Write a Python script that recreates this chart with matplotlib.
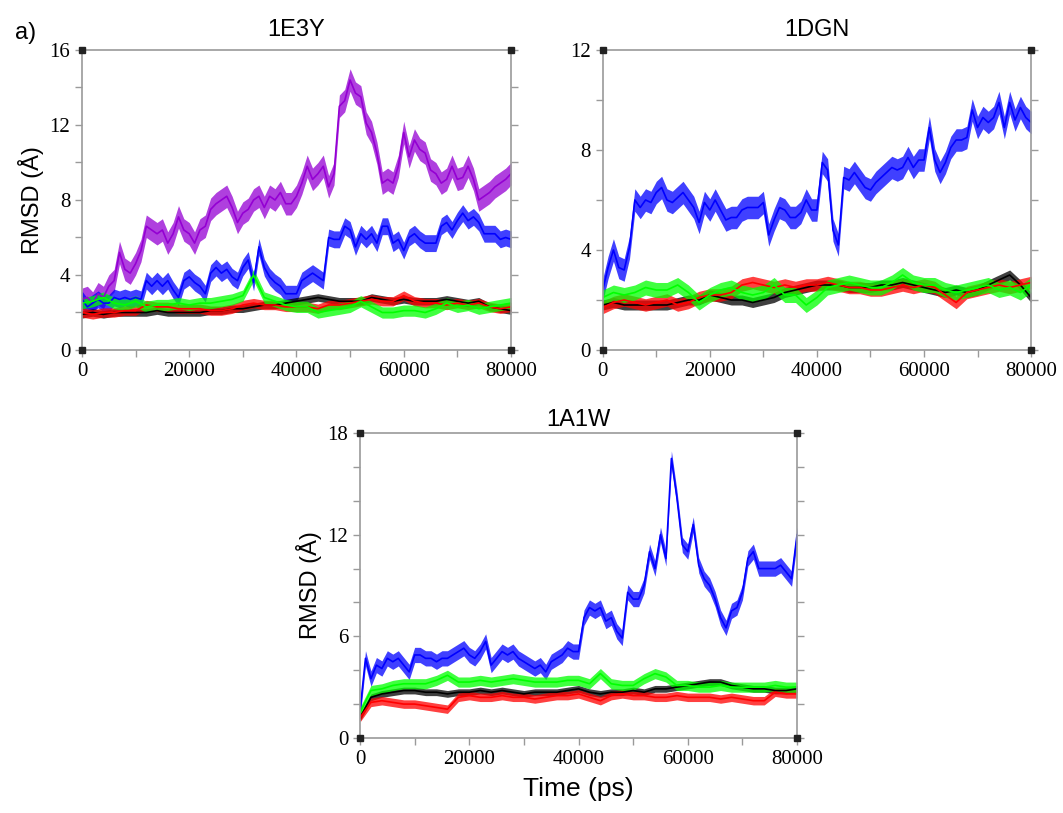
import matplotlib
matplotlib.use("Agg")
import matplotlib.pyplot as plt
import numpy as np

t_fine = list(range(0, 80001, 1000))
t_coarse = list(range(0, 80001, 2000))

# ---- 1E3Y ----
purple_1e3y = [2.7, 2.8, 2.5, 3.0, 2.8, 3.4, 3.7, 5.2, 4.3, 4.1, 4.6, 5.3, 6.6, 6.4, 6.2, 6.4,
               5.7, 6.2, 7.1, 6.4, 6.2, 5.7, 6.4, 6.6, 7.5, 7.8, 8.0, 8.2, 7.6, 6.8, 7.3,
               7.5, 8.0, 8.2, 7.6, 8.2, 8.0, 8.4, 7.8, 7.8, 8.2, 8.9, 9.8, 9.1, 9.4, 9.8,
               8.7, 9.4, 13.0, 13.3, 14.4, 13.7, 13.5, 12.1, 11.6, 10.5, 8.9, 9.1, 8.9, 9.8, 11.6,
               10.3, 11.2, 10.7, 10.5, 9.6, 9.4, 8.9, 9.1, 9.8, 9.1, 9.2, 9.8, 9.1, 8.0, 8.2,
               8.4, 8.7, 8.9, 9.1, 9.4]
blue_1e3y = [2.7, 2.3, 2.5, 2.7, 2.5, 2.5, 2.8, 2.7, 2.8, 2.7, 2.8, 2.7, 3.7, 3.4, 3.7, 3.4,
             3.7, 3.2, 2.8, 3.7, 3.9, 3.6, 3.4, 3.0, 4.1, 4.4, 4.1, 4.3, 3.9, 3.7, 4.4,
             4.8, 3.6, 5.5, 4.4, 3.9, 3.6, 3.4, 3.0, 3.0, 3.0, 3.7, 3.9, 4.1, 3.9, 3.7,
             6.0, 5.9, 5.9, 6.6, 6.4, 5.5, 6.2, 5.9, 6.2, 5.7, 6.6, 6.6, 5.7, 5.9, 5.3,
             6.0, 6.2, 5.9, 5.7, 5.7, 5.7, 6.6, 6.8, 6.4, 6.9, 7.3, 6.9, 7.1, 6.8, 6.2,
             6.2, 6.2, 5.9, 6.0, 5.9]
black_1e3y = [1.9, 2.0, 1.9, 2.0, 2.0, 2.0, 2.0, 2.1, 2.0, 2.0, 2.0, 2.0, 2.1, 2.1, 2.2, 2.2,
              2.3, 2.4, 2.4, 2.5, 2.6, 2.7, 2.8, 2.7, 2.6, 2.6, 2.6, 2.8, 2.7, 2.6, 2.7,
              2.6, 2.6, 2.6, 2.7, 2.6, 2.5, 2.6, 2.3, 2.2, 2.1]
red_1e3y = [2.0, 1.9, 2.0, 2.0, 2.1, 2.1, 2.4, 2.3, 2.3, 2.2, 2.2, 2.2, 2.1, 2.1, 2.2, 2.4,
            2.5, 2.4, 2.4, 2.3, 2.3, 2.3, 2.2, 2.4, 2.4, 2.5, 2.6, 2.7, 2.6, 2.6, 2.9,
            2.6, 2.5, 2.5, 2.4, 2.5, 2.4, 2.5, 2.3, 2.2, 2.3]
green_1e3y = [2.5, 2.6, 2.8, 2.5, 2.4, 2.6, 2.3, 2.4, 2.4, 2.5, 2.4, 2.5, 2.5, 2.6, 2.7, 2.9,
              4.0, 2.8, 2.6, 2.4, 2.3, 2.3, 2.0, 2.1, 2.2, 2.3, 2.6, 2.3, 2.0, 2.0, 2.1,
              2.1, 2.0, 2.2, 2.5, 2.3, 2.4, 2.2, 2.3, 2.4, 2.5]

# ---- 1DGN ----
blue_1dgn = [2.4, 3.3, 4.0, 3.3, 3.2, 4.1, 6.0, 5.7, 6.0, 5.9, 6.3, 6.5, 6.0, 5.9, 6.1, 6.3,
             6.0, 5.7, 5.1, 5.9, 5.6, 6.0, 5.6, 5.2, 5.3, 5.3, 5.6, 5.7, 5.7, 5.7, 5.9,
             4.6, 5.2, 5.7, 5.6, 5.3, 5.3, 5.5, 6.0, 5.6, 5.6, 7.5, 7.2, 4.8, 4.2, 6.9,
             6.8, 7.1, 6.8, 6.5, 6.4, 6.7, 6.9, 7.1, 7.3, 7.2, 7.3, 7.7, 7.3, 7.6, 7.6,
             8.9, 7.6, 7.1, 7.5, 8.1, 8.4, 8.4, 8.5, 9.6, 8.9, 9.3, 9.1, 9.3, 9.9, 8.9,
             9.9, 9.2, 9.7, 9.3, 9.1]
black_1dgn = [1.8, 1.9, 1.8, 1.8, 1.8, 1.8, 1.8, 1.9, 2.0, 2.0, 2.2, 2.1, 2.0, 2.0, 1.9, 2.0,
              2.1, 2.3, 2.4, 2.5, 2.6, 2.6, 2.6, 2.5, 2.5, 2.5, 2.6, 2.6, 2.7, 2.6, 2.5,
              2.4, 2.3, 2.4, 2.3, 2.4, 2.6, 2.8, 3.0, 2.6, 2.1]
red_1dgn = [1.7, 1.9, 2.0, 1.9, 1.8, 1.9, 2.0, 1.8, 1.9, 2.1, 2.2, 2.2, 2.3, 2.6, 2.7, 2.6,
            2.5, 2.6, 2.5, 2.6, 2.6, 2.7, 2.6, 2.5, 2.5, 2.4, 2.4, 2.5, 2.6, 2.5, 2.6,
            2.5, 2.2, 1.9, 2.3, 2.4, 2.5, 2.6, 2.5, 2.6, 2.7]
green_1dgn = [2.1, 2.3, 2.2, 2.3, 2.5, 2.4, 2.4, 2.6, 2.3, 1.9, 2.2, 2.4, 2.5, 2.3, 2.2, 2.3,
              2.6, 2.2, 2.2, 1.8, 2.1, 2.5, 2.6, 2.7, 2.6, 2.5, 2.5, 2.7, 3.0, 2.7, 2.6,
              2.6, 2.4, 2.3, 2.4, 2.5, 2.6, 2.4, 2.5, 2.3, 2.6]

# ---- 1A1W ----
blue_1a1w = [1.6, 4.7, 3.5, 4.3, 4.1, 4.7, 4.5, 4.7, 4.3, 3.9, 4.9, 4.9, 4.7, 4.7, 4.5, 4.7,
             4.7, 4.9, 5.1, 5.3, 4.9, 4.7, 5.1, 5.7, 4.3, 4.7, 5.1, 4.9, 5.1, 4.7, 4.5,
             4.3, 4.1, 4.3, 3.9, 4.5, 4.7, 4.9, 5.3, 5.1, 5.1, 7.1, 7.7, 7.5, 7.7, 6.9,
             7.1, 6.3, 5.9, 8.6, 8.2, 8.2, 9.0, 11.0, 10.0, 12.0, 10.6, 16.5, 14.2, 11.4, 11.0,
             12.6, 10.2, 9.4, 9.0, 8.2, 7.1, 6.5, 7.5, 7.7, 8.6, 10.6, 11.0, 10.0, 10.0, 10.0,
             10.0, 10.2, 9.8, 9.4, 12.0]
black_1a1w = [1.2, 2.4, 2.6, 2.7, 2.8, 2.8, 2.7, 2.7, 2.6, 2.7, 2.7, 2.8, 2.7, 2.8, 2.7, 2.6,
              2.7, 2.7, 2.7, 2.8, 2.9, 2.7, 2.6, 2.7, 2.7, 2.8, 2.7, 2.9, 2.9, 3.0, 3.1,
              3.2, 3.3, 3.3, 3.1, 3.0, 2.9, 2.9, 2.8, 2.8, 2.9]
red_1a1w = [1.2, 2.1, 2.2, 2.1, 2.0, 2.0, 1.9, 1.8, 1.7, 2.4, 2.5, 2.4, 2.4, 2.5, 2.4, 2.4,
            2.3, 2.4, 2.5, 2.5, 2.6, 2.4, 2.2, 2.5, 2.6, 2.5, 2.5, 2.4, 2.4, 2.5, 2.4,
            2.4, 2.4, 2.3, 2.4, 2.3, 2.2, 2.2, 2.7, 2.6, 2.6]
green_1a1w = [1.5, 2.8, 2.9, 3.1, 3.2, 3.2, 3.2, 3.4, 3.7, 3.3, 3.3, 3.4, 3.3, 3.4, 3.5, 3.4,
              3.3, 3.3, 3.3, 3.4, 3.4, 3.2, 3.8, 3.2, 3.1, 3.1, 3.5, 3.8, 3.6, 3.1, 3.1,
              3.0, 3.0, 3.1, 3.0, 3.0, 3.0, 3.0, 3.1, 3.0, 3.0]

# noise half-width of each trace
spread = {'purple': 0.6, 'blue': 0.45, 'black': 0.2, 'red': 0.25, 'green': 0.3}
colors = {'purple': '#9400D3', 'blue': '#0000FF', 'black': '#000000', 'red': '#FF0000', 'green': '#00FF00'}

serif = 'Liberation Serif'
sans = 'Liberation Sans'
grey = '#9a9a9a'


def trace(ax, t, v, name):
    t = np.array(t)
    v = np.array(v)
    c = colors[name]
    ax.fill_between(t, v - spread[name], v + spread[name], color=c, alpha=0.75, lw=0)
    ax.plot(t, v, color=c, lw=1.2)


def style(ax, ymax, ystep, title, pad=10):
    ax.set_xlim(0, 80000)
    ax.set_ylim(0, ymax)
    ax.set_xticks(range(0, 80001, 20000))
    ax.set_xticks(range(0, 80001, 10000), minor=True)
    ax.set_yticks(np.arange(0, ymax + 0.1, ystep))
    ax.set_yticks(np.arange(0, ymax + 0.1, 2), minor=True)
    for s in ax.spines.values():
        s.set_color(grey)
        s.set_linewidth(1.2)
    ax.tick_params(which='both', direction='out', color=grey, length=5, width=1.0,
                   right=True, top=False, labelsize=15)
    for lab in ax.get_xticklabels() + ax.get_yticklabels():
        lab.set_fontfamily(serif)
    ax.set_title(title, fontfamily=sans, fontsize=17, pad=pad)
    ax.plot([0, 0, 80000, 80000], [0, ymax, 0, ymax], ls='none', marker='s', ms=4,
            color='#222222', clip_on=False, zorder=10)


fig = plt.figure(figsize=(10.63, 8.13), dpi=100)

ax1 = fig.add_axes([0.0771, 0.5695, 0.4036, 0.369])
trace(ax1, t_fine, purple_1e3y, 'purple')
trace(ax1, t_fine, blue_1e3y, 'blue')
trace(ax1, t_coarse, black_1e3y, 'black')
trace(ax1, t_coarse, red_1e3y, 'red')
trace(ax1, t_coarse, green_1e3y, 'green')
style(ax1, 16, 4, '1E3Y')
ax1.set_ylabel('RMSD (Å)', fontfamily=sans, fontsize=17, labelpad=4)

ax2 = fig.add_axes([0.567, 0.5695, 0.403, 0.369])
trace(ax2, t_fine, blue_1dgn, 'blue')
trace(ax2, t_coarse, black_1dgn, 'black')
trace(ax2, t_coarse, red_1dgn, 'red')
trace(ax2, t_coarse, green_1dgn, 'green')
style(ax2, 12, 4, '1DGN')

ax3 = fig.add_axes([0.3387, 0.0923, 0.4111, 0.375])
trace(ax3, t_fine, blue_1a1w, 'blue')
trace(ax3, t_coarse, black_1a1w, 'black')
trace(ax3, t_coarse, red_1a1w, 'red')
trace(ax3, t_coarse, green_1a1w, 'green')
style(ax3, 18, 6, '1A1W', pad=5)
ax3.set_ylabel('RMSD (Å)', fontfamily=sans, fontsize=17, labelpad=4)
ax3.set_xlabel('Time (ps)', fontfamily=sans, fontsize=19, labelpad=6)

fig.text(0.014, 0.96, 'a)', fontfamily=sans, fontsize=17, va='center')

fig.savefig('out.png', dpi=100)
